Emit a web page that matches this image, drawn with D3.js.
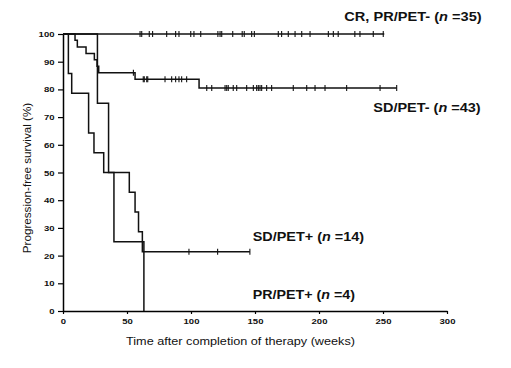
<!DOCTYPE html>
<html><head><meta charset="utf-8">
<script src="https://cdn.jsdelivr.net/npm/d3@7"></script>
<style>body{margin:0;background:#fff;} svg{display:block;}</style>
</head><body><svg id="c" width="511" height="368"></svg>
<script>
// ---- data ----
const xTicks = [0, 50, 100, 150, 200, 250, 300];
const yTicks = [0, 10, 20, 30, 40, 50, 60, 70, 80, 90, 100];

const crTimes = [0, 251];
const crSurv = [100, 100];
const crCensor = [60.2, 61.5, 67.4, 70, 81, 88, 90.6, 99.8, 102.3, 107.6, 121, 122.7, 124, 132.6, 140, 141.6, 147.4, 149.5, 168.2, 170.8, 176, 181.3, 186.5, 193, 207.3, 211.2, 215, 228, 232, 242.4, 250.2];

const sdnTimes = [0, 9.4, 11.2, 18, 24.5, 26.6, 27.9, 56.3, 106.3, 260.7];
const sdnSurv = [100, 97.7, 95.3, 93.0, 90.7, 88.4, 86.0, 83.7, 80.5, 80.5];
const sdnCensor = [55, 62.7, 63.5, 65.4, 66.2, 79.7, 84.9, 88, 90.6, 92.7, 96.6, 112.3, 116.2, 126.6, 127.9, 129.1, 133, 135.7, 143.5, 148.7, 151.3, 152.6, 153.9, 155.2, 159.1, 163, 179.9, 190.4, 196.9, 204.7, 221.6, 247.7, 260.7];

const sdpTimes = [0, 4.2, 6.8, 20, 24.2, 31.8, 51.8, 56.3, 59, 62, 146];
const sdpSurv = [100, 85.7, 78.6, 64.3, 57.1, 50, 42.9, 35.7, 28.6, 21.4, 21.4];
const sdpCensor = [98.4, 120.8, 146];

const prpTimes = [0, 26.9, 35.6, 39.8, 63.2];
const prpSurv = [100, 75, 50, 25, 0];
const prpCensor = [];

const seriesNames = ["CR, PR/PET- ", "SD/PET- ", "SD/PET+ ", "PR/PET+ "];
const seriesN = [35, 43, 14, 4];

// ---- chart ----
const svg = d3.select("#c");
const x = d3.scaleLinear().domain([0, 300]).range([63, 447]);
const y = d3.scaleLinear().domain([0, 100]).range([311, 34]);

const series = [
  {t: crTimes, s: crSurv, c: crCensor},
  {t: sdnTimes, s: sdnSurv, c: sdnCensor},
  {t: sdpTimes, s: sdpSurv, c: sdpCensor},
  {t: prpTimes, s: prpSurv, c: prpCensor}
];

// axes
const yAxis = d3.axisLeft(y).tickValues(yTicks).tickSize(5).tickSizeOuter(0).tickPadding(3);
const yg = svg.append("g").attr("transform", "translate(63,0)").call(yAxis);
const xAxis = d3.axisBottom(x).tickValues(xTicks).tickSize(3).tickSizeOuter(0).tickPadding(4);
const xg = svg.append("g").attr("transform", "translate(0,311)").call(xAxis);
[yg, xg].forEach(g => {
  g.select(".domain").attr("stroke", "#000").attr("stroke-width", 1.5);
  g.selectAll(".tick line").attr("stroke", "#000").attr("stroke-width", 1.2);
  g.selectAll(".tick text")
    .attr("fill", "#111")
    .style("font-family", "Arial, 'Liberation Sans', sans-serif")
    .style("font-weight", "bold")
    .style("font-size", "7.5px")
    .attr("lengthAdjust", "spacingAndGlyphs")
    .attr("textLength", d => String(d).length * 5.3);
});
xg.selectAll(".tick text").attr("dy", "0.71em").attr("y", 8);
yg.selectAll(".tick text").attr("x", -8.5).attr("dy", "0.34em");

// curves
const line = d3.line().x(d => x(d[0])).y(d => y(d[1])).curve(d3.curveStepAfter);
series.forEach(sr => {
  const pts = sr.t.map((t, i) => [t, sr.s[i]]);
  svg.append("path").attr("d", line(pts)).attr("fill", "none")
    .attr("stroke", "#111").attr("stroke-width", 1.5);
  const bis = d3.bisector(d => d).right;
  svg.append("g").selectAll("line").data(sr.c).join("line")
    .attr("x1", d => x(d)).attr("x2", d => x(d))
    .attr("y1", d => y(sr.s[Math.max(0, bis(sr.t, d) - 1)]) - 3)
    .attr("y2", d => y(sr.s[Math.max(0, bis(sr.t, d) - 1)]) + 3)
    .attr("stroke", "#111").attr("stroke-width", 1.1);
});

// series labels
const labelPos = [
  {x: 344.3, y: 21, w: 137.4},
  {x: 373.3, y: 111.5, w: 107.4},
  {x: 252.7, y: 241, w: 111.3},
  {x: 252.7, y: 299, w: 102.3}
];
seriesNames.forEach((nm, i) => {
  const t = svg.append("text").attr("x", labelPos[i].x).attr("y", labelPos[i].y)
    .style("font-family", "Arial, 'Liberation Sans', sans-serif")
    .style("font-weight", "bold").style("font-size", "12px").attr("fill", "#111")
    .attr("lengthAdjust", "spacingAndGlyphs").attr("textLength", labelPos[i].w);
  t.append("tspan").text(nm + "(");
  t.append("tspan").style("font-style", "italic").text("n");
  t.append("tspan").text(" =" + seriesN[i] + ")");
});

// axis titles
svg.append("text").attr("x", 240.5).attr("y", 345).attr("text-anchor", "middle")
  .style("font-family", "Arial, 'Liberation Sans', sans-serif").style("font-size", "11px")
  .attr("fill", "#111").attr("lengthAdjust", "spacingAndGlyphs").attr("textLength", 229)
  .text("Time after completion of therapy (weeks)");
svg.append("text").attr("transform", "translate(30.5,178) rotate(-90)").attr("text-anchor", "middle")
  .style("font-family", "Arial, 'Liberation Sans', sans-serif").style("font-size", "11.5px")
  .attr("fill", "#111").attr("lengthAdjust", "spacingAndGlyphs").attr("textLength", 150.5)
  .text("Progression-free survival (%)");
</script>
</body></html>
